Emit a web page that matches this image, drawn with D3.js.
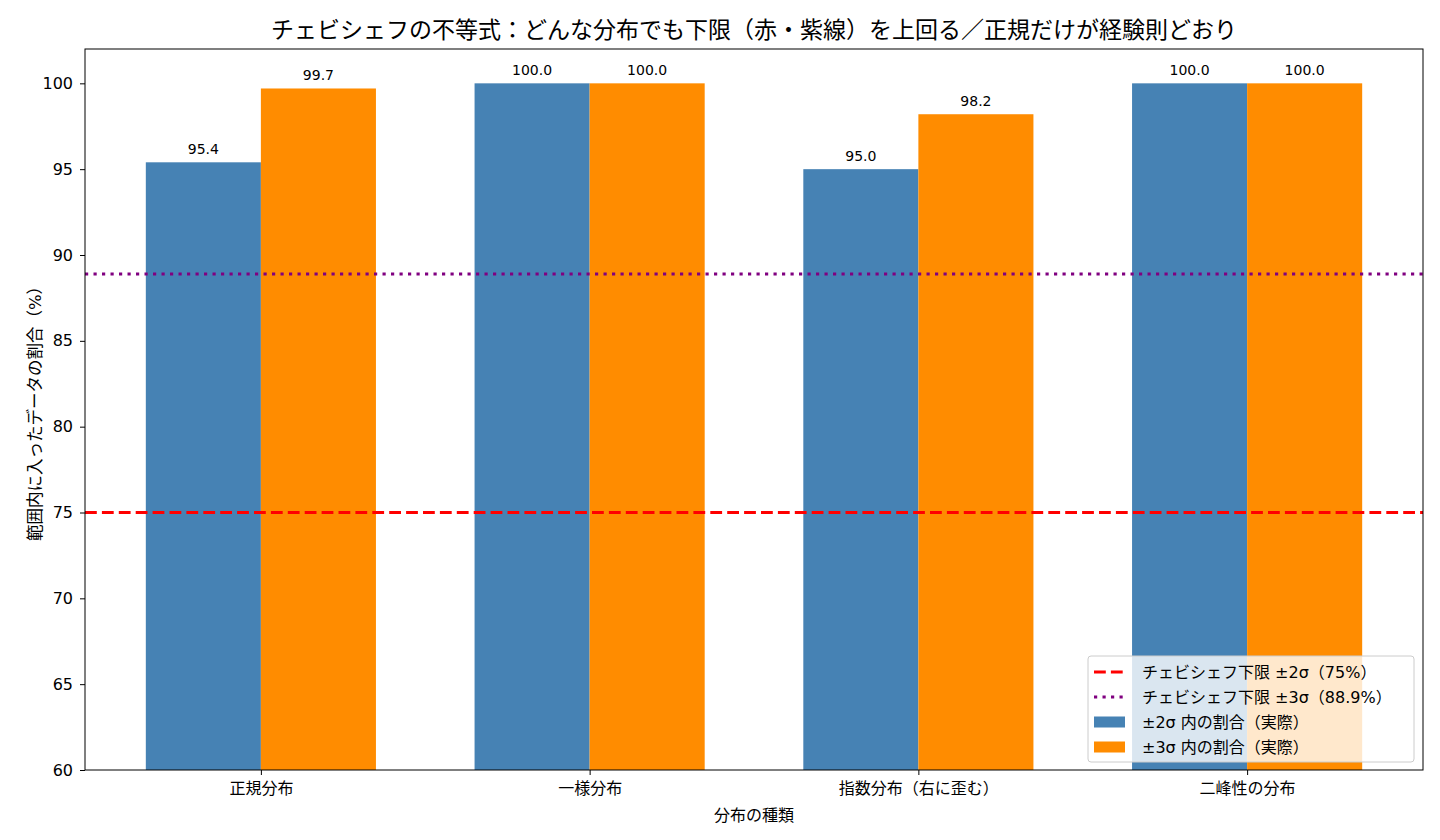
<!DOCTYPE html>
<html>
<head>
<meta charset="utf-8">
<script src="https://cdn.jsdelivr.net/npm/d3@7"></script>
<style>
  body { margin: 0; background: #fff; }
  text { font-family: "DejaVu Sans", "Noto Sans CJK JP", sans-serif; fill: #000; }
</style>
</head>
<body>
<div id="chart"></div>
<script>
const categories = ["正規分布", "一様分布", "指数分布（右に歪む）", "二峰性の分布"];
const within2 = [95.4, 100.0, 95.0, 100.0];
const within3 = [99.7, 100.0, 98.2, 100.0];
const bound2 = 75;
const bound3 = 88.9;
const yTicks = [60, 65, 70, 75, 80, 85, 90, 95, 100];
const legendLabels = [
  "チェビシェフ下限 ±2σ（75%）",
  "チェビシェフ下限 ±3σ（88.9%）",
  "±2σ 内の割合（実際）",
  "±3σ 内の割合（実際）"
];

const width = 1440, height = 840;
const margin = {left: 85, right: 17, top: 49, bottom: 70};
const barW = 0.35;
const dashRed = "11.8,5.1", dotPurple = "3.2,5.3";

const svg = d3.select("#chart").append("svg")
    .attr("width", width)
    .attr("height", height);

const x = d3.scaleLinear()
    .domain([-0.35 - 0.185, 3.35 + 0.185])
    .range([margin.left, width - margin.right]);
const y = d3.scaleLinear()
    .domain([60, 102])
    .range([height - margin.bottom, margin.top]);

const series = [
  {values: within2, offset: -barW / 2, color: "#4682B4"},
  {values: within3, offset: barW / 2, color: "#FF8C00"}
];

// bars
series.forEach(s => {
  svg.append("g").selectAll("rect")
    .data(s.values)
    .enter().append("rect")
    .attr("x", (d, i) => x(i + s.offset - barW / 2))
    .attr("width", x(barW) - x(0))
    .attr("y", d => y(d))
    .attr("height", d => y(60) - y(d))
    .attr("fill", s.color);

  svg.append("g").selectAll("text")
    .data(s.values)
    .enter().append("text")
    .attr("x", (d, i) => x(i + s.offset))
    .attr("y", d => y(d) - 8)
    .attr("text-anchor", "middle")
    .style("font-size", "14px")
    .text(d => d.toFixed(1));
});

// chebyshev lines
svg.append("line")
    .attr("x1", x.range()[0]).attr("x2", x.range()[1])
    .attr("y1", y(bound2)).attr("y2", y(bound2))
    .attr("stroke", "red").attr("stroke-width", 3)
    .attr("stroke-dasharray", dashRed);
svg.append("line")
    .attr("x1", x.range()[0]).attr("x2", x.range()[1])
    .attr("y1", y(bound3)).attr("y2", y(bound3))
    .attr("stroke", "purple").attr("stroke-width", 3)
    .attr("stroke-dasharray", dotPurple);

// axes
const yAxis = svg.append("g")
    .attr("transform", `translate(${margin.left},0)`)
    .call(d3.axisLeft(y).tickValues(yTicks).tickSize(5).tickPadding(7));
const xAxis = svg.append("g")
    .attr("transform", `translate(0,${height - margin.bottom})`)
    .call(d3.axisBottom(x).tickValues(d3.range(categories.length))
      .tickFormat(i => categories[i]).tickSize(5).tickPadding(8));
[xAxis, yAxis].forEach(a => {
  a.selectAll("text").style("font-size", "16px").style("fill", "#000");
  a.selectAll("line").attr("stroke", "#000");
  a.select(".domain").remove();
});

// frame
svg.append("rect")
    .attr("x", margin.left).attr("y", margin.top)
    .attr("width", width - margin.left - margin.right)
    .attr("height", height - margin.top - margin.bottom)
    .attr("fill", "none").attr("stroke", "#000").attr("stroke-width", 1);

// titles
svg.append("text")
    .attr("x", (margin.left + width - margin.right) / 2).attr("y", 38)
    .attr("text-anchor", "middle")
    .style("font-size", "23px")
    .text("チェビシェフの不等式：どんな分布でも下限（赤・紫線）を上回る／正規だけが経験則どおり");
svg.append("text")
    .attr("x", (margin.left + width - margin.right) / 2).attr("y", 821)
    .attr("text-anchor", "middle")
    .style("font-size", "16px")
    .text("分布の種類");
svg.append("text")
    .attr("transform", `translate(41,${(margin.top + height - margin.bottom) / 2}) rotate(-90)`)
    .attr("text-anchor", "middle")
    .style("font-size", "16.5px")
    .text("範囲内に入ったデータの割合（%）");

// legend
const lg = svg.append("g").attr("transform", "translate(1088,656)");
lg.append("rect")
    .attr("width", 326).attr("height", 106).attr("rx", 3)
    .attr("fill", "rgba(255,255,255,0.8)").attr("stroke", "#ccc");
const items = [
  {type: "line", color: "red", dash: dashRed},
  {type: "line", color: "purple", dash: dotPurple},
  {type: "rect", color: "#4682B4"},
  {type: "rect", color: "#FF8C00"}
];
items.forEach((it, i) => {
  const cy = 16 + i * 25;
  if (it.type === "line") {
    lg.append("line")
      .attr("x1", 6).attr("x2", 37).attr("y1", cy).attr("y2", cy)
      .attr("stroke", it.color).attr("stroke-width", 3)
      .attr("stroke-dasharray", it.dash);
  } else {
    lg.append("rect")
      .attr("x", 6).attr("y", cy - 5.5).attr("width", 31).attr("height", 11)
      .attr("fill", it.color);
  }
  lg.append("text")
    .attr("x", 54).attr("y", cy + 5.5)
    .style("font-size", "16px")
    .text(legendLabels[i]);
});
</script>
</body>
</html>
